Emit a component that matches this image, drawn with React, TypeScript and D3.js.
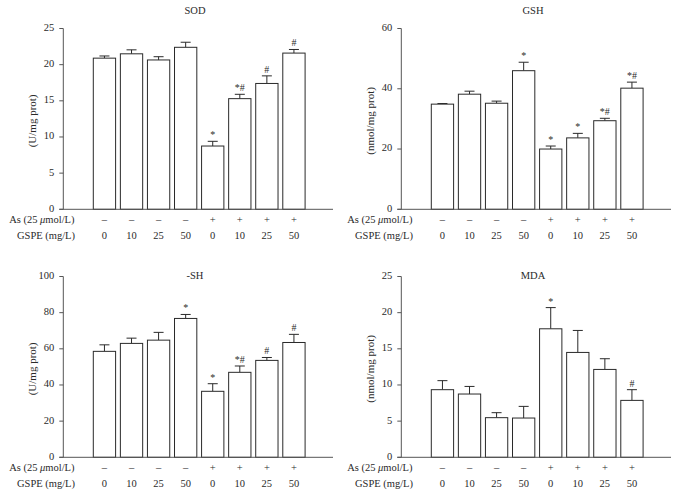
import React from "react";
import * as d3 from "d3";

const groups = ["0", "10", "25", "50", "0", "10", "25", "50"];
const asRow = ["–", "–", "–", "–", "+", "+", "+", "+"];

const sodMean = [20.9, 21.5, 20.65, 22.4, 8.75, 15.3, 17.4, 21.6];
const sodErr = [21.2, 22.05, 21.1, 23.1, 9.4, 15.9, 18.45, 22.1];
const sodSig = ["", "", "", "", "*", "*#", "#", "#"];
const sodTicks = [0, 5, 10, 15, 20, 25];

const gshMean = [34.9, 38.2, 35.2, 46.0, 20.0, 23.7, 29.4, 40.2];
const gshErr = [35.1, 39.2, 35.9, 48.8, 21.0, 25.2, 30.2, 42.2];
const gshSig = ["", "", "", "*", "*", "*", "*#", "*#"];
const gshTicks = [0, 20, 40, 60];

const shMean = [58.6, 63.0, 64.8, 76.8, 36.5, 47.0, 53.6, 63.5];
const shErr = [62.2, 65.9, 69.1, 79.0, 40.7, 50.5, 55.2, 68.0];
const shSig = ["", "", "", "*", "*", "*#", "#", "#"];
const shTicks = [0, 20, 40, 60, 80, 100];

const mdaMean = [9.35, 8.75, 5.48, 5.43, 17.77, 14.5, 12.15, 7.87];
const mdaErr = [10.6, 9.8, 6.17, 7.04, 20.7, 17.54, 13.63, 9.35];
const mdaSig = ["", "", "", "", "*", "", "", "#"];
const mdaTicks = [0, 5, 10, 15, 20, 25];

const FONT = "'Liberation Serif', 'DejaVu Serif', serif";
const INK = "#2a2a2a";
const AXIS = "#555";

type PanelProps = {
  ox: number;
  oy: number;
  title: string;
  titleY: number;
  ylabel: string;
  mean: number[];
  err: number[];
  sig: string[];
  ticks: number[];
};

function Panel({ ox, oy, title, titleY, ylabel, mean, err, sig, ticks }: PanelProps) {
  const axisX = 63.3;
  const axisEnd = 333;
  const top = 28.5;
  const bottom = 209.3;
  const y = d3.scaleLinear().domain([0, ticks[ticks.length - 1]]).range([bottom, top]);
  const idx = groups.map((_, i) => String(i));
  const x = d3
    .scaleBand<string>()
    .domain(idx)
    .range([93.3, 93.3 + 7 * 27.07 + 22.3])
    .paddingInner(0.176)
    .paddingOuter(0);
  const bw = x.bandwidth();
  const cap = 10;
  return (
    <g transform={`translate(${ox},${oy})`} style={{ fontFamily: FONT }}>
      <text x={195} y={titleY} textAnchor="middle" fontSize={10.5} fill={INK}>
        {title}
      </text>
      <text
        transform={`translate(33,${(top + bottom) / 2 + 2}) rotate(-90)`}
        textAnchor="middle"
        dominantBaseline="middle"
        fontSize={11}
        fill={INK}
      >
        {ylabel}
      </text>
      {mean.map((m, i) => {
        const bx = x(String(i))!;
        const cx = bx + bw / 2;
        return (
          <g key={i}>
            <line x1={cx} x2={cx} y1={y(m)} y2={y(err[i])} stroke={INK} strokeWidth={1} />
            <line x1={cx - cap / 2} x2={cx + cap / 2} y1={y(err[i])} y2={y(err[i])} stroke={INK} strokeWidth={1} />
            <rect x={bx} y={y(m)} width={bw} height={bottom - y(m)} fill="#fff" stroke={INK} strokeWidth={1} />
            {sig[i] && (
              <text x={cx} y={y(err[i]) - 3} textAnchor="middle" fontSize={10} fill={INK}>
                {sig[i]}
              </text>
            )}
          </g>
        );
      })}
      <line x1={axisX} x2={axisX} y1={top} y2={bottom} stroke={AXIS} strokeWidth={1} />
      <line x1={axisX - 4} x2={axisEnd} y1={bottom} y2={bottom} stroke={AXIS} strokeWidth={1} />
      {ticks.map((t) => (
        <g key={t}>
          <line x1={axisX - 4} x2={axisX} y1={y(t)} y2={y(t)} stroke={AXIS} strokeWidth={1} />
          <text x={axisX - 9} y={y(t)} textAnchor="end" dominantBaseline="middle" fontSize={10.5} fill={INK}>
            {t}
          </text>
        </g>
      ))}
      <text x={74.5} y={221} textAnchor="end" dominantBaseline="middle" fontSize={10.5} fill={INK}>
        As (25 <tspan fontStyle="italic">μ</tspan>mol/L)
      </text>
      <text x={75} y={236.7} textAnchor="end" dominantBaseline="middle" fontSize={10.5} fill={INK}>
        GSPE (mg/L)
      </text>
      {groups.map((g, i) => {
        const cx = x(String(i))! + bw / 2;
        return (
          <g key={i}>
            <text x={cx} y={221} textAnchor="middle" dominantBaseline="middle" fontSize={10.5} fill={INK}>
              {asRow[i]}
            </text>
            <text x={cx} y={236.7} textAnchor="middle" dominantBaseline="middle" fontSize={10.5} fill={INK}>
              {g}
            </text>
          </g>
        );
      })}
    </g>
  );
}

export default function App() {
  return (
    <svg width={678} height={500} style={{ position: "absolute", left: 0, top: 0, background: "#fff" }}>
      <rect width={678} height={500} fill="#fff" />
      <Panel ox={0} oy={0} title="SOD" titleY={14} ylabel="(U/mg prot)" mean={sodMean} err={sodErr} sig={sodSig} ticks={sodTicks} />
      <Panel ox={338} oy={0} title="GSH" titleY={14} ylabel="(nmol/mg prot)" mean={gshMean} err={gshErr} sig={gshSig} ticks={gshTicks} />
      <Panel ox={0} oy={248} title="-SH" titleY={31} ylabel="(U/mg prot)" mean={shMean} err={shErr} sig={shSig} ticks={shTicks} />
      <Panel ox={338} oy={248} title="MDA" titleY={31} ylabel="(nmol/mg prot)" mean={mdaMean} err={mdaErr} sig={mdaSig} ticks={mdaTicks} />
    </svg>
  );
}
